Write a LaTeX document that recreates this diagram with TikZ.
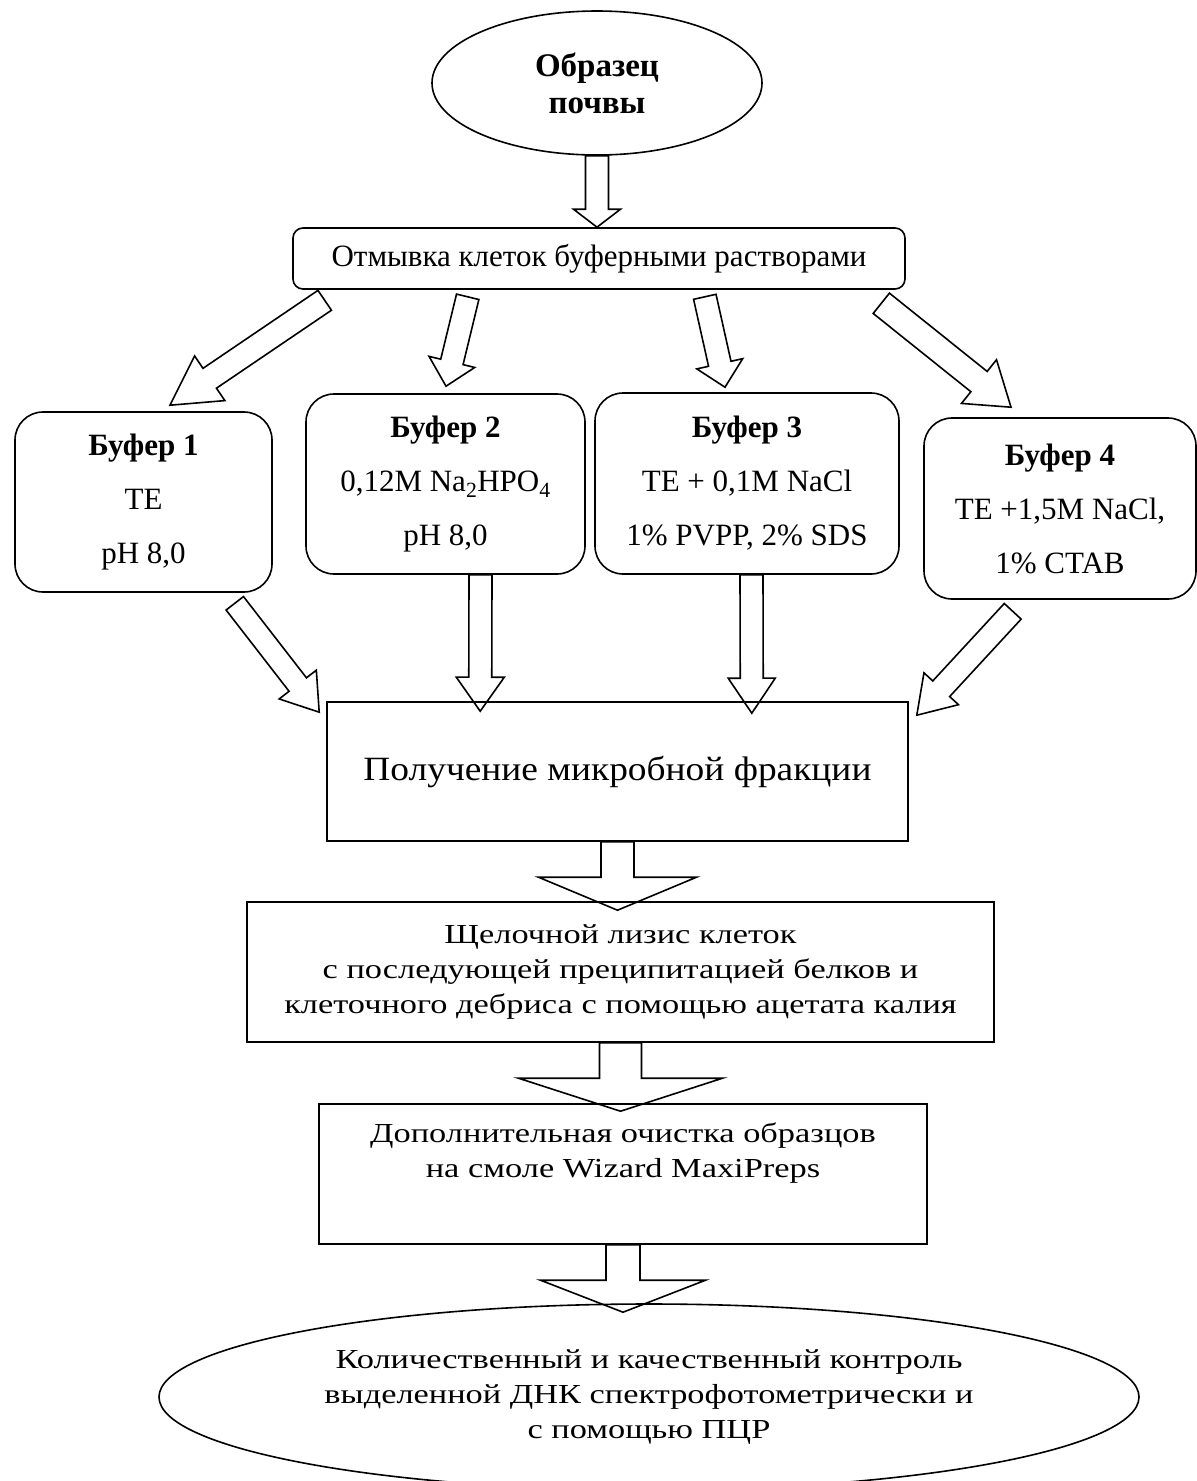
\documentclass[tikz,border=0pt]{standalone}
\usepackage{fontspec}
\setmainfont{Liberation Serif}
\newfontfamily\widefont[FakeStretch=1.25]{Liberation Serif}
\newfontfamily\microfont[FakeStretch=1.1]{Liberation Serif}
\usetikzlibrary{shapes.geometric,calc,positioning}

\newcommand{\fatarrow}[5]{%
  \coordinate (fa) at ($(#2)!#5!(#1)$);
  \draw[blockarrow] ($(#1)!#3!90:(#2)$) -- ($(fa)!#3!90:(#2)$) -- ($(fa)!#4!90:(#2)$) -- (#2)
    -- ($(fa)!#4!-90:(#2)$) -- ($(fa)!#3!-90:(#2)$) -- ($(#1)!#3!-90:(#2)$) -- cycle;}

\begin{document}
\begin{tikzpicture}[x=1pt,y=-1pt,
  box/.style={draw, line width=1.6pt, align=center, inner sep=0pt},
  buf/.style={box, rounded corners=28pt, font=\fontsize{31}{54}\selectfont},
  stage/.style={box, font=\widefont\fontsize{27.5}{35}\selectfont},
  blockarrow/.style={draw, line width=1.6pt, line join=miter}]
\useasboundingbox (0,0) rectangle (1197,1481);
\node[box, ellipse, minimum width=330pt, minimum height=144pt,
  font=\bfseries\fontsize{33}{37}\selectfont] (soil) at (597,83) {Образец\\почвы};
\node[box, rounded corners=10pt, minimum width=612pt, minimum height=61pt,
  font=\fontsize{31}{36}\selectfont] (wash) at (599,258.5) {Отмывка клеток буферными растворами};
\node[buf, minimum width=257pt, minimum height=180pt] (b1) at (143.5,502) {\textbf{Буфер 1}\\TE\\pH 8,0};
\node[buf, minimum width=279pt, minimum height=180pt] (b2) at (445.5,484) {\textbf{Буфер 2}\\0,12M Na\textsubscript{2}HPO\textsubscript{4}\\pH 8,0};
\node[buf, minimum width=304pt, minimum height=181pt] (b3) at (747,483.5) {\textbf{Буфер 3}\\TE + 0,1M NaCl\\1\% PVPP, 2\% SDS};
\node[buf, minimum width=272pt, minimum height=181pt] (b4) at (1060,508.5) {\textbf{Буфер 4}\\TE +1,5M NaCl,\\1\% CTAB};
\node[stage, minimum width=581pt, minimum height=139pt, font=\microfont\fontsize{34}{38}\selectfont] (micro) at (617.5,771.5) {Получение микробной фракции};
\node[stage, minimum width=747pt, minimum height=140pt] (lysis) at (620.5,972) {Щелочной лизис клеток\\с последующей преципитацией белков и\\клеточного дебриса с помощью ацетата калия};
\node[stage, minimum width=608pt, minimum height=140pt] (clean) at (623,1174) {};
\node[stage, draw=none, below=19pt of clean.north] (cleantxt) {Дополнительная очистка образцов\\на смоле Wizard MaxiPreps};
\node[stage, ellipse, minimum width=980pt, minimum height=186pt] (ctrl) at (649,1397) {Количественный и качественный контроль\\выделенной ДНК спектрофотометрически и\\с помощью ПЦР};

\coordinate (t1) at ($(wash.south west)+(32.5,10.5)$);
\coordinate (t2) at ($(wash.south west)+(175.5,7)$);
\coordinate (t3) at ($(wash.south east)+(-201,7)$);
\coordinate (t4) at ($(wash.south east)+(-24.5,13.5)$);
\coordinate (h1) at ($(b1.north)+(26.5,-6)$);
\coordinate (h2) at ($(b2.north)+(0.5,-7)$);
\coordinate (h3) at ($(b3.north)+(-22,-5)$);
\coordinate (h4) at ($(b4.north)+(-49,-10)$);
\coordinate (s1) at ($(b1.south east)+(-38,10.5)$);
\coordinate (s2) at ($(b2.south)+(35,0)$);
\coordinate (s3) at ($(b3.south)+(4.5,0)$);
\coordinate (s4) at ($(b4.south west)+(89.5,11.5)$);
\coordinate (e1) at ($(micro.north west)+(-7,11)$);
\coordinate (e2) at ($(micro.north west)+(154,10)$);
\coordinate (e3) at ($(micro.north east)+(-157,12)$);
\coordinate (e4) at ($(micro.north east)+(8,14)$);
\coordinate (m1) at ($(micro.south |- lysis.north)+(0,9)$);
\coordinate (m2) at ($(lysis.south |- clean.north)+(0,8)$);
\coordinate (m3) at ($(clean.south |- ctrl.north)+(0,9)$);
\coordinate (m0) at (soil.south |- wash.north);

\fatarrow{soil.south}{m0}{11.5pt}{23.5pt}{18pt}
\fatarrow{t1}{h1}{12pt}{27pt}{48pt}
\fatarrow{t2}{h2}{11.5pt}{23.5pt}{25pt}
\fatarrow{t3}{h3}{11.5pt}{23.5pt}{24pt}
\fatarrow{t4}{h4}{13pt}{28pt}{41pt}
\fatarrow{s1}{e1}{11pt}{23.5pt}{35pt}
\fatarrow{s2}{e2}{11.5pt}{24pt}{34pt}
\fatarrow{s3}{e3}{11.5pt}{23.5pt}{35pt}
\fatarrow{s4}{e4}{11.5pt}{23.5pt}{36pt}
\fatarrow{micro.south}{m1}{16.5pt}{79pt}{33pt}
\fatarrow{lysis.south}{m2}{21pt}{102pt}{33pt}
\fatarrow{clean.south}{m3}{17pt}{82.5pt}{32pt}
\end{tikzpicture}
\end{document}
